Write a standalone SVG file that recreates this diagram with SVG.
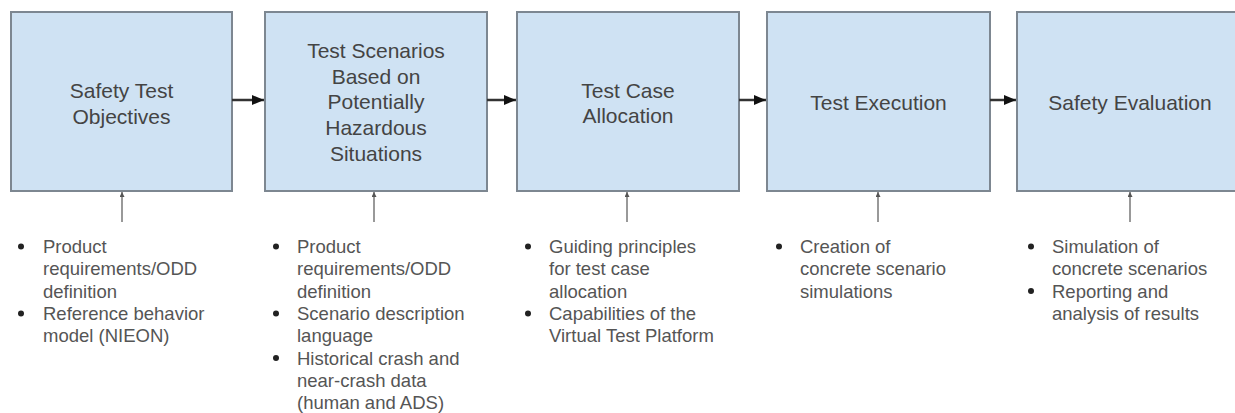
<svg xmlns="http://www.w3.org/2000/svg" width="1235" height="413" viewBox="0 0 1235 413">
<defs>
<style>
.box{fill:#cfe2f3;stroke:#7d8791;stroke-width:2}
.bt{font-family:"Liberation Sans",Arial,sans-serif;font-size:21px;fill:#444;text-anchor:middle}
.lt{font-family:"Liberation Sans",Arial,sans-serif;font-size:18.5px;fill:#555}
.bul{fill:#222}
.flow{stroke:#333;stroke-width:2.5;fill:none}
.up{stroke:#999;stroke-width:2;fill:none}
</style>
<marker id="ah" viewBox="0 0 12 10" refX="12" refY="5" markerWidth="12" markerHeight="10" orient="auto" markerUnits="userSpaceOnUse">
<path d="M0,0 L12,5 L0,10 z" fill="#111"/>
</marker>
<marker id="ahs" viewBox="0 0 10 10" refX="10" refY="5" markerWidth="5" markerHeight="5" orient="auto" markerUnits="userSpaceOnUse">
<path d="M0,0 L10,5 L0,10 z" fill="#555"/>
</marker>
</defs>
<rect width="1235" height="413" fill="#fff"/>

<g id="n1">
<rect class="box" x="11" y="12" width="221" height="179"/>
<text class="bt" x="121.5"><tspan x="121.5" y="97.5">Safety Test</tspan><tspan x="121.5" y="123.5">Objectives</tspan></text>
</g>
<g id="n2">
<rect class="box" x="265" y="12" width="222" height="179"/>
<text class="bt"><tspan x="376" y="57.5">Test Scenarios</tspan><tspan x="376" y="83.5">Based on</tspan><tspan x="376" y="109">Potentially</tspan><tspan x="376" y="135">Hazardous</tspan><tspan x="376" y="161">Situations</tspan></text>
</g>
<g id="n3">
<rect class="box" x="517" y="12" width="222" height="179"/>
<text class="bt"><tspan x="628" y="97.5">Test Case</tspan><tspan x="628" y="123">Allocation</tspan></text>
</g>
<g id="n4">
<rect class="box" x="767" y="12" width="223" height="179"/>
<text class="bt" x="878.5" y="109.5">Test Execution</text>
</g>
<g id="n5">
<rect class="box" x="1017" y="12" width="230" height="179"/>
<text class="bt" x="1130" y="109.5">Safety Evaluation</text>
</g>

<g id="connectors">
<line class="flow" x1="232" y1="100" x2="264" y2="100" marker-end="url(#ah)"/>
<line class="flow" x1="487" y1="100" x2="516" y2="100" marker-end="url(#ah)"/>
<line class="flow" x1="739" y1="100" x2="766" y2="100" marker-end="url(#ah)"/>
<line class="flow" x1="990" y1="100" x2="1016" y2="100" marker-end="url(#ah)"/>
<line class="up" x1="122" y1="222" x2="122" y2="192" marker-end="url(#ahs)"/>
<line class="up" x1="374" y1="222" x2="374" y2="192" marker-end="url(#ahs)"/>
<line class="up" x1="627" y1="222" x2="627" y2="192" marker-end="url(#ahs)"/>
<line class="up" x1="878" y1="222" x2="878" y2="192" marker-end="url(#ahs)"/>
<line class="up" x1="1130" y1="222" x2="1130" y2="192" marker-end="url(#ahs)"/>
</g>

<g id="list1">
<circle class="bul" cx="21" cy="246.5" r="3"/>
<circle class="bul" cx="21" cy="313.5" r="3"/>
<text class="lt"><tspan x="43" y="253">Product</tspan><tspan x="43" y="275.3">requirements/ODD</tspan><tspan x="43" y="297.6">definition</tspan><tspan x="43" y="319.9">Reference behavior</tspan><tspan x="43" y="342.2">model (NIEON)</tspan></text>
</g>
<g id="list2">
<circle class="bul" cx="276" cy="246.5" r="3"/>
<circle class="bul" cx="276" cy="313.5" r="3"/>
<circle class="bul" cx="276" cy="358.1" r="3"/>
<text class="lt"><tspan x="297" y="253">Product</tspan><tspan x="297" y="275.3">requirements/ODD</tspan><tspan x="297" y="297.6">definition</tspan><tspan x="297" y="319.9">Scenario description</tspan><tspan x="297" y="342.2">language</tspan><tspan x="297" y="364.5">Historical crash and</tspan><tspan x="297" y="386.8">near-crash data</tspan><tspan x="297" y="409">(human and ADS)</tspan></text>
</g>
<g id="list3">
<circle class="bul" cx="528" cy="246.5" r="3"/>
<circle class="bul" cx="528" cy="313.5" r="3"/>
<text class="lt"><tspan x="549" y="253">Guiding principles</tspan><tspan x="549" y="275.3">for test case</tspan><tspan x="549" y="297.6">allocation</tspan><tspan x="549" y="319.9">Capabilities of the</tspan><tspan x="549" y="342.2">Virtual Test Platform</tspan></text>
</g>
<g id="list4">
<circle class="bul" cx="779" cy="246.5" r="3"/>
<text class="lt"><tspan x="800" y="253">Creation of</tspan><tspan x="800" y="275.3">concrete scenario</tspan><tspan x="800" y="297.6">simulations</tspan></text>
</g>
<g id="list5">
<circle class="bul" cx="1031" cy="246.5" r="3"/>
<circle class="bul" cx="1031" cy="291.1" r="3"/>
<text class="lt"><tspan x="1052" y="253">Simulation of</tspan><tspan x="1052" y="275.3">concrete scenarios</tspan><tspan x="1052" y="297.6">Reporting and</tspan><tspan x="1052" y="319.9">analysis of results</tspan></text>
</g>
</svg>
